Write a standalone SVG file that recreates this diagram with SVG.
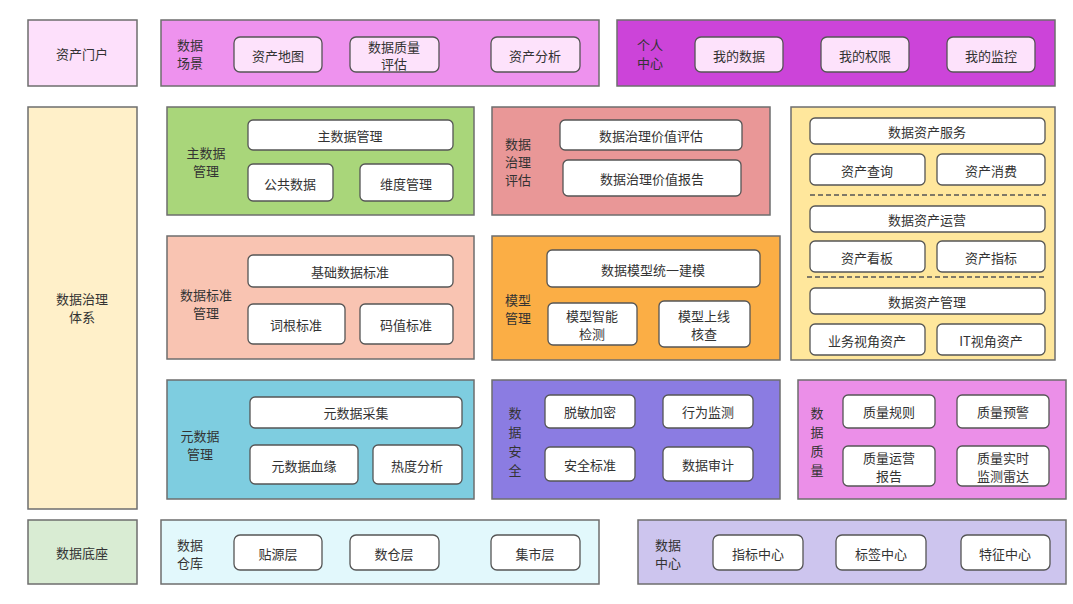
<svg xmlns="http://www.w3.org/2000/svg" width="1073" height="604" viewBox="0 0 1073 604">
<style>
.o{stroke:#6e6e6e;stroke-width:1.5}
.b{fill:#fff;stroke:#555;stroke-width:1.3}
.bp{fill:#fde2fb;stroke:#555;stroke-width:1.3}
text{font-family:"Noto Sans CJK SC","Liberation Sans",sans-serif;font-size:13px;fill:#333;text-anchor:middle;dominant-baseline:central}
.l{text-anchor:start}
.d{stroke:#555;stroke-width:1.3;stroke-dasharray:5 3;fill:none}
</style>
<rect width="1073" height="604" fill="#fff"/>
<g id="portal"><rect class="o" x="28" y="20" width="109" height="66" fill="#fde0fb"/><text x="82" y="53">资产门户</text></g>
<g id="scene"><rect class="o" x="161" y="20" width="438" height="66" fill="#ee92ee"/>
<text class="l" x="177" y="44">数据</text><text class="l" x="177" y="62">场景</text>
<rect class="bp" x="234" y="37" width="88" height="35" rx="6"/><text x="278" y="55">资产地图</text>
<rect class="bp" x="350" y="37" width="89" height="35" rx="6"/><text x="394" y="46">数据质量</text><text x="394" y="63">评估</text>
<rect class="bp" x="491" y="37" width="89" height="35" rx="6"/><text x="535" y="55">资产分析</text></g>
<g id="personal"><rect class="o" x="617" y="20" width="438" height="66" fill="#cc44d9"/>
<text class="l" x="637" y="44">个人</text><text class="l" x="637" y="62">中心</text>
<rect class="bp" x="695" y="37" width="88" height="35" rx="6"/><text x="739" y="55">我的数据</text>
<rect class="bp" x="821" y="37" width="88" height="35" rx="6"/><text x="865" y="55">我的权限</text>
<rect class="bp" x="947" y="37" width="88" height="35" rx="6"/><text x="991" y="55">我的监控</text></g>
<g id="gov"><rect class="o" x="28" y="107" width="109" height="402" fill="#fff0c9"/><text x="82" y="298">数据治理</text><text x="82" y="316">体系</text></g>
<g id="master"><rect class="o" x="167" y="107" width="307" height="108" fill="#a9d67a"/>
<text x="206" y="152">主数据</text><text x="206" y="170">管理</text>
<rect class="b" x="248" y="120" width="205" height="30" rx="5"/><text x="350" y="135">主数据管理</text>
<rect class="b" x="248" y="164" width="85" height="37" rx="5"/><text x="290" y="183">公共数据</text>
<rect class="b" x="360" y="164" width="93" height="37" rx="5"/><text x="406" y="183">维度管理</text></g>
<g id="eval"><rect class="o" x="492" y="107" width="278" height="108" fill="#e99797"/>
<text class="l" x="505" y="143">数据</text><text class="l" x="505" y="161">治理</text><text class="l" x="505" y="179">评估</text>
<rect class="b" x="560" y="120" width="182" height="30" rx="5"/><text x="651" y="135">数据治理价值评估</text>
<rect class="b" x="563" y="160" width="178" height="36" rx="5"/><text x="652" y="178">数据治理价值报告</text></g>
<g id="asset"><rect class="o" x="791" y="107" width="264" height="253" fill="#ffe79c"/>
<rect class="b" x="810" y="118" width="235" height="26" rx="5"/><text x="927" y="131">数据资产服务</text>
<rect class="b" x="810" y="154" width="115" height="31" rx="5"/><text x="867" y="170">资产查询</text>
<rect class="b" x="937" y="154" width="108" height="31" rx="5"/><text x="991" y="170">资产消费</text>
<line class="d" x1="810" y1="195" x2="1046" y2="195"/>
<rect class="b" x="810" y="206" width="235" height="26" rx="5"/><text x="927" y="219">数据资产运营</text>
<rect class="b" x="810" y="241" width="115" height="31" rx="5"/><text x="867" y="257">资产看板</text>
<rect class="b" x="937" y="241" width="108" height="31" rx="5"/><text x="991" y="257">资产指标</text>
<line class="d" x1="807" y1="277" x2="1046" y2="277"/>
<rect class="b" x="810" y="288" width="235" height="26" rx="5"/><text x="927" y="301">数据资产管理</text>
<rect class="b" x="810" y="324" width="115" height="31" rx="5"/><text x="867" y="340">业务视角资产</text>
<rect class="b" x="937" y="324" width="108" height="31" rx="5"/><text x="991" y="340">IT视角资产</text></g>
<g id="std"><rect class="o" x="167" y="236" width="307" height="123" fill="#f9c4b2"/>
<text x="206" y="294">数据标准</text><text x="206" y="312">管理</text>
<rect class="b" x="248" y="255" width="205" height="32" rx="5"/><text x="350" y="271">基础数据标准</text>
<rect class="b" x="248" y="304" width="97" height="40" rx="5"/><text x="296" y="324">词根标准</text>
<rect class="b" x="360" y="304" width="93" height="40" rx="5"/><text x="406" y="324">码值标准</text></g>
<g id="model"><rect class="o" x="492" y="236" width="288" height="124" fill="#fbae45"/>
<text class="l" x="505" y="299">模型</text><text class="l" x="505" y="317">管理</text>
<rect class="b" x="547" y="250" width="213" height="37" rx="5"/><text x="653" y="269">数据模型统一建模</text>
<rect class="b" x="548" y="303" width="89" height="42" rx="5"/><text x="592" y="315">模型智能</text><text x="592" y="333">检测</text>
<rect class="b" x="659" y="301" width="91" height="46" rx="5"/><text x="704" y="315">模型上线</text><text x="704" y="333">核查</text></g>
<g id="meta"><rect class="o" x="167" y="380" width="307" height="119" fill="#7ecde0"/>
<text x="200" y="435">元数据</text><text x="200" y="453">管理</text>
<rect class="b" x="250" y="397" width="212" height="31" rx="5"/><text x="356" y="412">元数据采集</text>
<rect class="b" x="250" y="445" width="108" height="39" rx="5"/><text x="304" y="465">元数据血缘</text>
<rect class="b" x="373" y="445" width="89" height="39" rx="5"/><text x="417" y="465">热度分析</text></g>
<g id="security"><rect class="o" x="492" y="380" width="288" height="119" fill="#8b7ce2"/>
<text x="515" y="412">数</text><text x="515" y="431">据</text><text x="515" y="450">安</text><text x="515" y="469">全</text>
<rect class="b" x="545" y="395" width="90" height="33" rx="5"/><text x="590" y="411">脱敏加密</text>
<rect class="b" x="663" y="395" width="90" height="33" rx="5"/><text x="708" y="411">行为监测</text>
<rect class="b" x="545" y="447" width="90" height="34" rx="5"/><text x="590" y="464">安全标准</text>
<rect class="b" x="663" y="447" width="90" height="34" rx="5"/><text x="708" y="464">数据审计</text></g>
<g id="quality"><rect class="o" x="798" y="380" width="268" height="119" fill="#eb8fe8"/>
<text x="817" y="412">数</text><text x="817" y="431">据</text><text x="817" y="450">质</text><text x="817" y="469">量</text>
<rect class="b" x="843" y="395" width="92" height="33" rx="5"/><text x="889" y="411">质量规则</text>
<rect class="b" x="957" y="395" width="92" height="33" rx="5"/><text x="1003" y="411">质量预警</text>
<rect class="b" x="843" y="446" width="92" height="40" rx="5"/><text x="889" y="457">质量运营</text><text x="889" y="475">报告</text>
<rect class="b" x="957" y="446" width="92" height="40" rx="5"/><text x="1003" y="457">质量实时</text><text x="1003" y="475">监测雷达</text></g>
<g id="base"><rect class="o" x="28" y="520" width="109" height="64" fill="#d9ecd3"/><text x="82" y="552">数据底座</text></g>
<g id="warehouse"><rect class="o" x="161" y="520" width="438" height="64" fill="#e2f8fc"/>
<text class="l" x="177" y="544">数据</text><text class="l" x="177" y="562">仓库</text>
<rect class="b" x="234" y="535" width="88" height="35" rx="6"/><text x="278" y="553">贴源层</text>
<rect class="b" x="350" y="535" width="89" height="35" rx="6"/><text x="394" y="553">数仓层</text>
<rect class="b" x="491" y="535" width="89" height="35" rx="6"/><text x="535" y="553">集市层</text></g>
<g id="center"><rect class="o" x="638" y="520" width="428" height="64" fill="#cdc5ee"/>
<text class="l" x="655" y="544">数据</text><text class="l" x="655" y="562">中心</text>
<rect class="b" x="713" y="535" width="90" height="35" rx="6"/><text x="758" y="553">指标中心</text>
<rect class="b" x="836" y="535" width="90" height="35" rx="6"/><text x="881" y="553">标签中心</text>
<rect class="b" x="961" y="535" width="89" height="35" rx="6"/><text x="1005" y="553">特征中心</text></g>
<g id="connectors"></g>
</svg>
